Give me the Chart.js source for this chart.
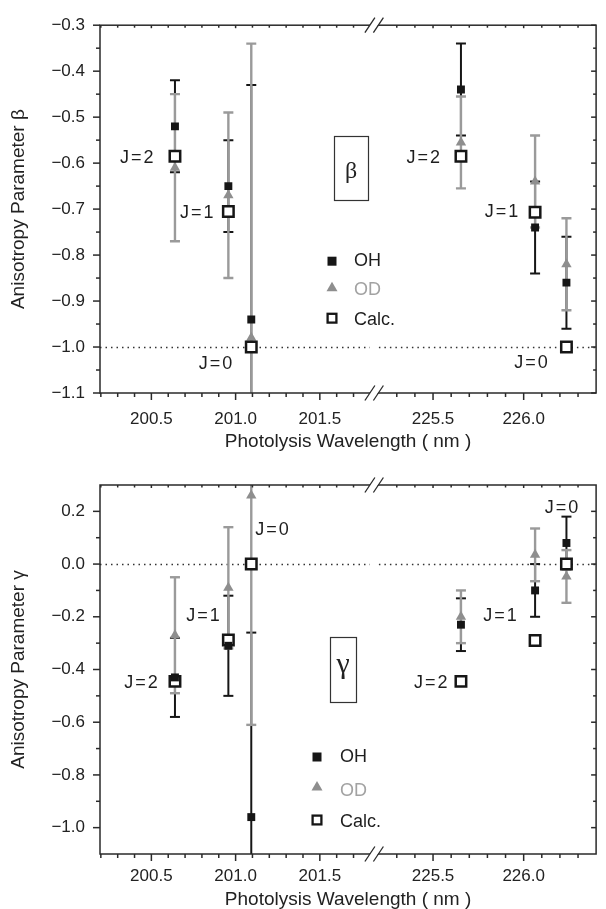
<!DOCTYPE html>
<html>
<head>
<meta charset="utf-8">
<script src="https://cdn.jsdelivr.net/npm/chart.js@4.4.0/dist/chart.umd.min.js"></script>
<style>
html,body{margin:0;padding:0;background:#fff;overflow:hidden;width:606px;height:909px;}
#c1{position:absolute;left:0;top:0;}
#c2{position:absolute;left:0;top:455px;}
</style>
</head>
<body>
<canvas id="c1" width="606" height="455"></canvas>
<canvas id="c2" width="606" height="460"></canvas>
<script>
// ---------------- DATA ----------------
const wavelengths = [200.64, 200.957, 201.093, 225.654, 226.063, 226.236];
const stateLabels = ['J=2', 'J=1', 'J=0', 'J=2', 'J=1', 'J=0'];

const betaOH      = [-0.52, -0.65, -0.94, -0.44, -0.74, -0.86];
const betaOHErr   = [0.10, 0.10, 0.51, 0.10, 0.10, 0.10];
const betaOD      = [-0.61, -0.67, -0.98, -0.555, -0.64, -0.82];
const betaODErr   = [0.16, 0.18, 0.64, 0.10, 0.10, 0.10];
const betaCalc    = [-0.585, -0.705, -1.0, -0.585, -0.707, -1.0];

const gammaOH     = [-0.43, -0.31, -0.96, -0.23, -0.10, 0.08];
const gammaOHErr  = [0.15, 0.19, 0.70, 0.10, 0.10, 0.10];
const gammaOD     = [-0.27, -0.09, 0.26, -0.20, 0.035, -0.047];
const gammaODErr  = [0.22, 0.23, 0.87, 0.10, 0.10, 0.10];
const gammaCalc   = [-0.445, -0.288, 0.0, -0.445, -0.29, 0.0];

const xMajorTicks = [200.5, 201.0, 201.5, 225.5, 226.0];
const xTickLabels = ['200.5', '201.0', '201.5', '225.5', '226.0'];
const xMinorTicks = [200.2, 200.3, 200.4, 200.6, 200.7, 200.8, 200.9, 201.1, 201.2, 201.3, 201.4, 201.6, 201.7,
                     225.3, 225.4, 225.6, 225.7, 225.8, 225.9, 226.1, 226.2, 226.3];
const betaTicks = [-1.1, -1.0, -0.9, -0.8, -0.7, -0.6, -0.5, -0.4, -0.3];
const betaMinorTicks = [-1.05, -0.95, -0.85, -0.75, -0.65, -0.55, -0.45, -0.35];
const gammaTicks = [-1.0, -0.8, -0.6, -0.4, -0.2, 0.0, 0.2];
const gammaMinorTicks = [-0.9, -0.7, -0.5, -0.3, -0.1, 0.1];

// ---------------- broken x axis ----------------
const X_MIN = 200.195, X_MAX = 203.14;
const BREAK_DISP = 201.815;            // where the axis break sits (display units)
const RIGHT_ORIGIN = 202.172, RIGHT_STRETCH = 1.076;
function dispX(wl) { return wl < 213 ? wl : RIGHT_ORIGIN + (wl - 225.5) * RIGHT_STRETCH; }
function fmtY(v) { const r = Math.round(v * 10) / 10; return (r < 0 ? '\u2212' : '') + Math.abs(r).toFixed(1); }

const FONT = '"Liberation Sans", Arial, Helvetica, sans-serif';
Chart.defaults.font.family = FONT;
Chart.defaults.color = '#222';

const INK = '#161616', GREY = '#8e8e8e', GREY_BAR = '#9a9a9a';

const breakPlot = {
  id: 'breakPlot',
  beforeDatasetsDraw(chart, args, o) {
    const {ctx, chartArea: a, scales: {x, y}} = chart;
    ctx.save();
    ctx.beginPath(); ctx.rect(a.left, a.top, a.right - a.left, a.bottom - a.top); ctx.clip();
    const xb = x.getPixelForValue(BREAK_DISP);
    const yr = Math.round(y.getPixelForValue(o.refValue)) + 0.5;
    ctx.strokeStyle = '#333'; ctx.lineWidth = 1.3; ctx.setLineDash([1.5, 4]);
    ctx.beginPath(); ctx.moveTo(a.left, yr); ctx.lineTo(xb - 3, yr);
    ctx.moveTo(xb + 6, yr); ctx.lineTo(a.right, yr); ctx.stroke();
    ctx.setLineDash([]);
    chart.data.datasets.forEach((ds, i) => {
      if (!ds.errors) return;
      const meta = chart.getDatasetMeta(i);
      ctx.strokeStyle = ds.errColor; ctx.lineWidth = ds.errWidth;
      ds.data.forEach((p, j) => {
        const e = ds.errors[j], px = meta.data[j].x;
        const yt = y.getPixelForValue(p.y + e), yb = y.getPixelForValue(p.y - e);
        ctx.beginPath(); ctx.moveTo(px, yt); ctx.lineTo(px, yb); ctx.stroke();
        [yt, yb].forEach(yy => { ctx.beginPath(); ctx.moveTo(px - 5, yy); ctx.lineTo(px + 5, yy); ctx.stroke(); });
      });
    });
    ctx.restore();
  },
  afterDraw(chart, args, o) {
    const {ctx, chartArea: a, scales: {x, y}} = chart;
    ctx.save();
    // frame
    ctx.strokeStyle = '#2a2a2a'; ctx.lineWidth = 1.5;
    ctx.strokeRect(a.left, a.top, a.right - a.left, a.bottom - a.top);
    // y ticks
    const tick = (x1, y1, x2, y2) => { ctx.beginPath(); ctx.moveTo(x1, y1); ctx.lineTo(x2, y2); ctx.stroke(); };
    o.yMajor.forEach(v => { const p = y.getPixelForValue(v); tick(a.left - 7, p, a.left, p); tick(a.right - 5, p, a.right, p); });
    o.yMinor.forEach(v => { const p = y.getPixelForValue(v); tick(a.left - 4, p, a.left, p); tick(a.right - 3, p, a.right, p); });
    xMajorTicks.forEach(w => { const p = x.getPixelForValue(dispX(w)); tick(p, a.bottom, p, a.bottom + 7); tick(p, a.top, p, a.top + 3); });
    xMinorTicks.forEach(w => { const p = x.getPixelForValue(dispX(w)); tick(p, a.bottom, p, a.bottom + 4); tick(p, a.top, p, a.top + 2.5); });
    // axis break marks
    const xb = x.getPixelForValue(BREAK_DISP);
    [a.top, a.bottom].forEach(yy => {
      ctx.fillStyle = '#fff';
      ctx.beginPath(); ctx.moveTo(xb - 7, yy + 6); ctx.lineTo(xb + 1, yy - 6); ctx.lineTo(xb + 9, yy - 6); ctx.lineTo(xb + 1, yy + 6); ctx.closePath(); ctx.fill();
      ctx.strokeStyle = '#2a2a2a'; ctx.lineWidth = 1.3;
      tick(xb - 8, yy + 7.5, xb + 2, yy - 7.5);
      tick(xb + 0.5, yy + 7.5, xb + 10.5, yy - 7.5);
    });
    // J labels
    ctx.fillStyle = '#1e1e1e'; ctx.textBaseline = 'middle';
    ctx.font = '18px ' + FONT;
    try { ctx.letterSpacing = '2px'; } catch (e) {}
    o.labels.forEach((l, i) => {
      ctx.textAlign = l.align;
      ctx.fillText(stateLabels[i], x.getPixelForValue(dispX(l.wl)), y.getPixelForValue(l.v));
    });
    try { ctx.letterSpacing = '0px'; } catch (e) {}
    // symbol box
    const b = o.box;
    const bx = x.getPixelForValue(dispX(b.wl)), by = y.getPixelForValue(b.v);
    ctx.strokeStyle = '#333'; ctx.lineWidth = 1.2;
    ctx.strokeRect(Math.round(bx - b.w / 2) + 0.5, Math.round(by - b.h / 2) + 0.5, b.w, b.h);
    ctx.font = b.size + 'px "Liberation Serif", "Times New Roman", serif';
    ctx.textAlign = 'center'; ctx.textBaseline = 'alphabetic'; ctx.fillStyle = '#222';
    ctx.fillText(b.text, bx, by + b.dy);
    // legend
    const L = o.legend;
    const lx = a.left + L.dx;
    ctx.font = '18px ' + FONT; ctx.textAlign = 'left'; ctx.textBaseline = 'middle';
    L.order.forEach((di, r) => {
      const ds = chart.data.datasets[di];
      const ly = a.top + L.dys[r];
      if (ds.legendShape === 'square') {
        ctx.fillStyle = ds.backgroundColor; ctx.fillRect(lx - 4.5, ly - 4.5, 9, 9);
      } else if (ds.legendShape === 'triangle') {
        const ty = ly + L.triDy;
        ctx.fillStyle = ds.backgroundColor;
        ctx.beginPath(); ctx.moveTo(lx, ty - 5.5); ctx.lineTo(lx + 5.5, ty + 4); ctx.lineTo(lx - 5.5, ty + 4); ctx.closePath(); ctx.fill();
      } else {
        const cy = ly + L.calcDy;
        ctx.strokeStyle = ds.borderColor; ctx.lineWidth = 2.3;
        ctx.strokeRect(lx - 4.4, cy - 4.4, 8.8, 8.8);
      }
      ctx.fillStyle = ds.legendTextColor;
      ctx.fillText(ds.label, lx + L.textDx, ly);
    });
    ctx.restore();
  }
};

function makeChart(id, cfg) {
  const pts = vals => vals.map((v, i) => ({x: dispX(wavelengths[i]), y: v}));
  return new Chart(document.getElementById(id), {
    type: 'scatter',
    data: {
      datasets: [
        { label: 'OH', data: pts(cfg.oh), errors: cfg.ohErr, errColor: INK, errWidth: 2,
          pointStyle: 'rect', pointRadius: 5.6, backgroundColor: INK, borderColor: INK, borderWidth: 0,
          legendShape: 'square', legendTextColor: '#1e1e1e' },
        { label: 'Calc.', data: pts(cfg.calc),
          pointStyle: 'rect', pointRadius: 7.4, backgroundColor: '#fff', borderColor: INK, borderWidth: 2.5,
          legendShape: 'open', legendTextColor: '#1e1e1e' },
        { label: 'OD', data: pts(cfg.od), errors: cfg.odErr, errColor: GREY_BAR, errWidth: 2.4,
          pointStyle: 'triangle', pointRadius: 6, backgroundColor: GREY, borderColor: GREY, borderWidth: 0,
          legendShape: 'triangle', legendTextColor: '#a2a2a2' }
      ]
    },
    options: {
      responsive: false, animation: false, events: [],
      layout: { padding: cfg.padding },
      scales: {
        x: {
          type: 'linear', min: X_MIN, max: X_MAX,
          afterBuildTicks: s => { s.ticks = xMajorTicks.map(w => ({value: dispX(w)})); },
          afterFit: s => { s.height = cfg.xHeight; },
          grid: { display: false, drawTicks: false }, border: { display: false },
          ticks: { padding: cfg.xPad, autoSkip: false, maxRotation: 0, font: { size: 17 }, color: '#222',
                   callback: (v, i) => xTickLabels[i] },
          title: { display: true, text: 'Photolysis Wavelength ( nm )', font: { size: 19 }, color: '#222',
                   padding: { top: 0, bottom: cfg.titlePad } }
        },
        y: {
          type: 'linear', min: cfg.ymin, max: cfg.ymax,
          afterBuildTicks: s => { s.ticks = cfg.yTicks.map(v => ({value: v})); },
          afterFit: s => { s.width = 100; },
          grid: { display: false, drawTicks: false }, border: { display: false },
          ticks: { padding: 15, font: { size: 17 }, color: '#222', callback: v => fmtY(v) },
          title: { display: true, text: cfg.yTitle, font: { size: 19 }, color: '#222',
                   padding: { top: 7, bottom: 0 } }
        }
      },
      plugins: {
        legend: { display: false }, tooltip: { enabled: false },
        breakPlot: cfg.deco
      }
    },
    plugins: [breakPlot]
  });
}

makeChart('c1', {
  oh: betaOH, ohErr: betaOHErr, od: betaOD, odErr: betaODErr, calc: betaCalc,
  ymin: -1.1, ymax: -0.3, yTicks: betaTicks, yTitle: 'Anisotropy Parameter \u03B2',
  padding: { top: 21, right: 2, left: 0, bottom: 0 }, xHeight: 62, xPad: 16, titlePad: 2,
  deco: {
    refValue: -1.0, yMajor: betaTicks, yMinor: betaMinorTicks,
    labels: [
      { wl: 200.525, v: -0.588, align: 'right' },
      { wl: 200.881, v: -0.708, align: 'right' },
      { wl: 200.992, v: -1.038, align: 'right' },
      { wl: 225.549, v: -0.588, align: 'right' },
      { wl: 225.981, v: -0.706, align: 'right' },
      { wl: 226.144, v: -1.035, align: 'right' }
    ],
    box: { text: '\u03B2', wl: 201.686, v: -0.61, w: 34, h: 64, size: 24, dy: 10.5 },
    legend: { order: [0, 2, 1], dx: 232, dys: [236, 265, 295], textDx: 22, triDy: -3, calcDy: -2 }
  }
});

makeChart('c2', {
  oh: gammaOH, ohErr: gammaOHErr, od: gammaOD, odErr: gammaODErr, calc: gammaCalc,
  ymin: -1.1, ymax: 0.3, yTicks: gammaTicks, yTitle: 'Anisotropy Parameter \u03B3',
  padding: { top: 30, right: 4, left: 0, bottom: 0 }, xHeight: 61, xPad: 12, titlePad: 4,
  deco: {
    refValue: 0.0, yMajor: gammaTicks, yMinor: gammaMinorTicks,
    labels: [
      { wl: 200.550, v: -0.452, align: 'right' },
      { wl: 200.918, v: -0.199, align: 'right' },
      { wl: 201.117, v: 0.128, align: 'left' },
      { wl: 225.591, v: -0.452, align: 'right' },
      { wl: 225.973, v: -0.199, align: 'right' },
      { wl: 226.214, v: 0.213, align: 'center' }
    ],
    box: { text: '\u03B3', wl: 201.639, v: -0.40, w: 26, h: 65, size: 30, dy: 3.6 },
    legend: { order: [0, 2, 1], dx: 217, dys: [272, 306, 337], textDx: 23, triDy: -4.5, calcDy: -2 }
  }
});
</script>
</body>
</html>
